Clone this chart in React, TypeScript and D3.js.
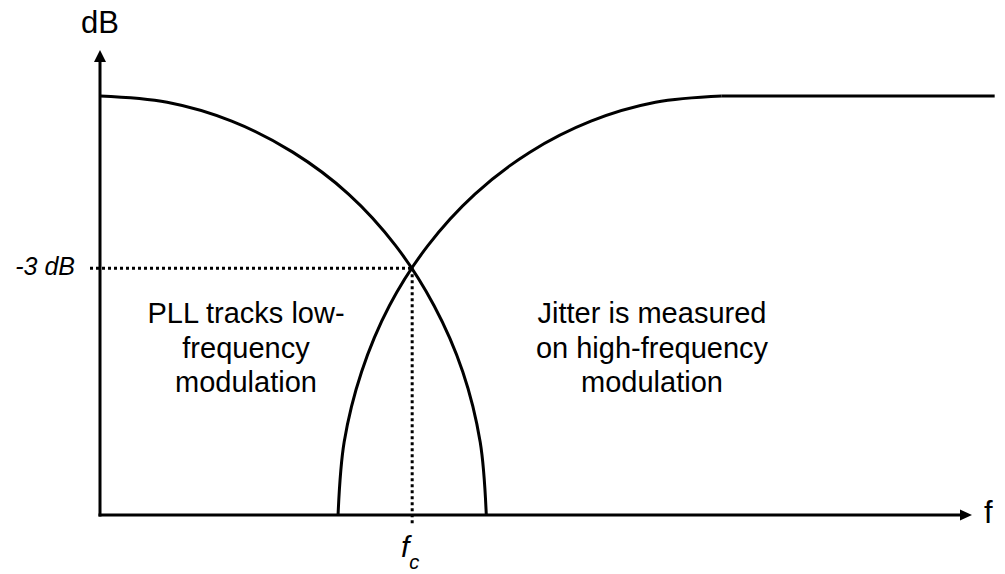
import * as d3 from 'd3'

const WIDTH = 1005
const HEIGHT = 574
const FONT = '"Liberation Sans", Arial, sans-serif'

// frequency (arbitrary units) and level (0 = baseline, 100 = passband)
const LOWPASS_F = [0, 7.7, 15.1, 22.1, 28.5, 33.9, 38.3, 41.6, 43.6, 44.3]
const LOWPASS_L = [100, 98.5, 94, 86.6, 76.6, 64.3, 50, 34.2, 17.4, 0]
const HIGHPASS_F = [27.3, 28, 30, 33.2, 37.6, 43, 49.3, 56.3, 63.7, 71.3, 102.6]
const HIGHPASS_L = [0, 17.4, 34.2, 50, 64.3, 76.6, 86.6, 94, 98.5, 100, 100]

const FC = 35.8
const MINUS3 = 58.9

const PLL_LINES = ['PLL tracks low-', 'frequency', 'modulation']
const JITTER_LINES = ['Jitter is measured', 'on high-frequency', 'modulation']

const x = d3.scaleLinear().domain([0, 100]).range([100, 972])
const y = d3.scaleLinear().domain([0, 100]).range([515, 96])

const curve = d3.line<[number, number]>()
  .x(d => x(d[0]))
  .y(d => y(d[1]))
  .curve(d3.curveCatmullRom.alpha(0.5))

const straight = d3.line<[number, number]>()
  .x(d => x(d[0]))
  .y(d => y(d[1]))

const lowpass = LOWPASS_F.map((f, i) => [f, LOWPASS_L[i]] as [number, number])
const highpass = HIGHPASS_F.map((f, i) => [f, HIGHPASS_L[i]] as [number, number])
// rising part is curved, the passband after it is flat
const highpassRise = highpass.slice(0, -1)
const highpassFlat = highpass.slice(-2)

export default function App() {
  const x0 = x(0)
  const y0 = y(0)
  const xFc = x(FC)
  const y3 = y(MINUS3)

  return (
    <svg width={WIDTH} height={HEIGHT} style={{ position: 'absolute', left: 0, top: 0, fontFamily: FONT }}>
      <rect width={WIDTH} height={HEIGHT} fill="#fff" />

      {/* dotted guides */}
      <line x1={90} x2={xFc} y1={y3} y2={y3} stroke="#000" strokeWidth={3} strokeDasharray="3,3" />
      <line x1={xFc} x2={xFc} y1={y3} y2={524} stroke="#000" strokeWidth={3} strokeDasharray="3,3" />

      {/* axes */}
      <line x1={x0} x2={x0} y1={y0 + 1.5} y2={60} stroke="#000" strokeWidth={3} />
      <path d={`M${x0},50 L${x0 - 6},62 L${x0 + 6},62 Z`} fill="#000" />
      <line x1={x0 - 1.5} x2={962} y1={y0} y2={y0} stroke="#000" strokeWidth={3} />
      <path d={`M972,${y0} L960,${y0 - 5.5} L960,${y0 + 5.5} Z`} fill="#000" />

      {/* response curves */}
      <path d={curve(lowpass) || ''} fill="none" stroke="#000" strokeWidth={3} />
      <path d={curve(highpassRise) || ''} fill="none" stroke="#000" strokeWidth={3} />
      <path d={straight(highpassFlat) || ''} fill="none" stroke="#000" strokeWidth={3} />

      {/* labels */}
      <text x={x0} y={33} textAnchor="middle" fontSize={31}>dB</text>
      <text x={75} y={275} textAnchor="end" fontSize={25} fontStyle="italic">-3 dB</text>
      <text x={984} y={523} fontSize={31}>f</text>
      <text x={401} y={557} fontSize={30} fontStyle="italic">
        f<tspan fontSize={20} dy={12}>c</tspan>
      </text>

      {PLL_LINES.map((t, i) => (
        <text key={t} x={246} y={323 + i * 34.5} textAnchor="middle" fontSize={29}>{t}</text>
      ))}
      {JITTER_LINES.map((t, i) => (
        <text key={t} x={652} y={323 + i * 34.5} textAnchor="middle" fontSize={29}>{t}</text>
      ))}
    </svg>
  )
}
